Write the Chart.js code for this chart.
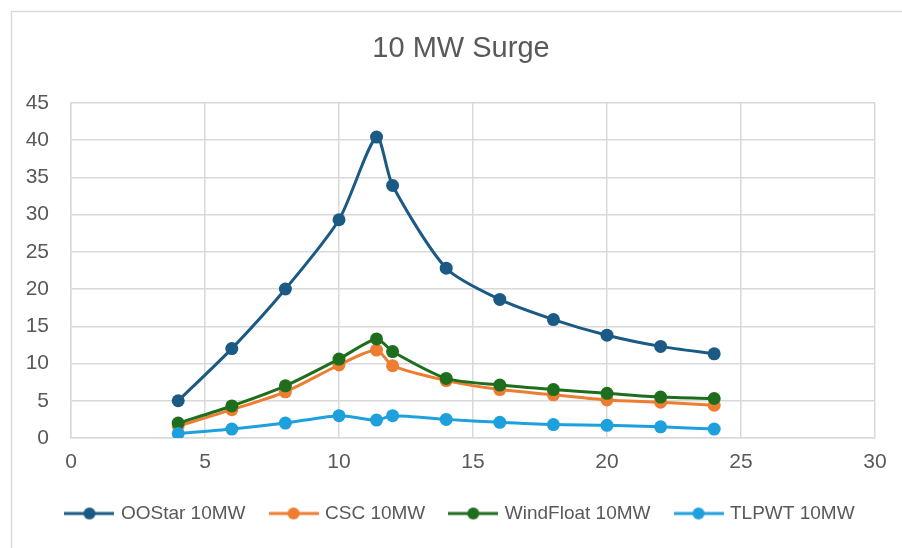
<!DOCTYPE html>
<html>
<head>
<meta charset="utf-8">
<script src="https://cdn.jsdelivr.net/npm/chart.js@4"></script>
<style>
  html, body { margin: 0; padding: 0; background: #fff; }
  #wrap { width: 902px; height: 548px; position: relative; }
</style>
</head>
<body>
<div id="wrap"><canvas id="surgeChart" width="902" height="548"></canvas></div>
<script>
// Data
const xValues = [4, 6, 8, 10, 11.4, 12, 14, 16, 18, 20, 22, 24];
const ooStar = [5.0, 12.0, 20.0, 29.3, 40.4, 33.9, 22.8, 18.6, 15.9, 13.8, 12.3, 11.3];
const csc = [1.6, 3.8, 6.2, 9.8, 11.8, 9.7, 7.7, 6.5, 5.8, 5.1, 4.8, 4.4];
const windFloat = [2.0, 4.3, 7.0, 10.6, 13.3, 11.6, 8.0, 7.1, 6.5, 6.0, 5.5, 5.3];
const tlpwt = [0.6, 1.2, 2.0, 3.0, 2.4, 3.0, 2.5, 2.1, 1.8, 1.7, 1.5, 1.2];
const seriesNames = ['OOStar 10MW', 'CSC 10MW', 'WindFloat 10MW', 'TLPWT 10MW'];
const seriesColors = ['#1b5a85', '#ed7d31', '#1e6e1e', '#1ea0dc'];
const seriesValues = [ooStar, csc, windFloat, tlpwt];

const sans = "'Liberation Sans', Arial, sans-serif";
const textGray = '#595959';
const gridGray = '#d9d9d9';

// legend marker: line with a dot
function legendMark(color) {
    const c = document.createElement('canvas');
    c.width = 50; c.height = 14;
    const g = c.getContext('2d');
    g.strokeStyle = color; g.lineWidth = 3;
    g.beginPath(); g.moveTo(0, 7); g.lineTo(50, 7); g.stroke();
    g.fillStyle = color;
    g.beginPath(); g.arc(25, 7, 6, 0, Math.PI * 2); g.fill();
    return c;
}

const datasets = seriesValues.map((vals, i) => ({
    label: seriesNames[i],
    data: xValues.map((x, j) => ({ x: x, y: vals[j] })),
    borderColor: seriesColors[i],
    backgroundColor: seriesColors[i],
    borderWidth: 3,
    pointRadius: 6.5,
    pointHoverRadius: 6.5,
    pointBorderWidth: 0,
    pointStyle: 'circle',
    legendMark: legendMark(seriesColors[i]),
    tension: 0.25,
    order: 3 - i   // later series drawn on top, like the original
}));

const framePlugin = {
    id: 'frame',
    beforeDraw(chart) {
        const ctx = chart.ctx;
        ctx.save();
        ctx.fillStyle = '#fff';
        ctx.fillRect(0, 0, chart.width, chart.height);
        ctx.strokeStyle = gridGray;
        ctx.lineWidth = 1.5;
        ctx.strokeRect(11.5, 11.5, chart.width, chart.height);
        ctx.restore();
    }
};

new Chart(document.getElementById('surgeChart'), {
    type: 'line',
    data: { datasets },
    options: {
        responsive: false,
        animation: false,
        layout: { padding: { left: 20, right: 0, top: 10, bottom: 15 } },
        plugins: {
            title: {
                display: true,
                text: '10 MW Surge',
                color: textGray,
                font: { family: sans, size: 29, weight: 'normal' },
                padding: { top: 22, bottom: 36 }
            },
            legend: {
                position: 'bottom',
                labels: {
                    color: textGray,
                    font: { family: sans, size: 19 },
                    usePointStyle: true,
                    pointStyleWidth: 44,
                    boxHeight: 19,
                    padding: 26,
                    generateLabels(chart) {
                        return chart.data.datasets.map((d, i) => ({
                            text: d.label,
                            fillStyle: d.borderColor,
                            strokeStyle: d.borderColor,
                            lineWidth: 0,
                            pointStyle: d.legendMark,
                            fontColor: textGray,
                            datasetIndex: i,
                            hidden: false
                        }));
                    }
                }
            },
            tooltip: { enabled: false }
        },
        scales: {
            x: {
                type: 'linear',
                min: 0, max: 30,
                ticks: { stepSize: 5, color: textGray, font: { family: sans, size: 21 }, padding: 12 },
                grid: { color: gridGray, lineWidth: 1.5, drawTicks: false },
                border: { color: gridGray, width: 1.5 },
                afterFit(scale) { scale.height = 40; }
            },
            y: {
                min: 0, max: 45,
                ticks: { stepSize: 5, color: textGray, font: { family: sans, size: 21 }, padding: 22 },
                grid: { color: gridGray, lineWidth: 1.5, drawTicks: false },
                border: { color: gridGray, width: 1.5 },
                afterFit(scale) { scale.width = 51; }
            },
            // empty spacer on the right so the plot ends where the original does
            yRight: {
                position: 'right',
                min: 0, max: 45,
                grid: { display: false, drawTicks: false },
                ticks: { display: false },
                border: { display: false },
                afterFit(scale) { scale.width = 27; }
            }
        }
    },
    plugins: [framePlugin]
});
</script>
</body>
</html>
